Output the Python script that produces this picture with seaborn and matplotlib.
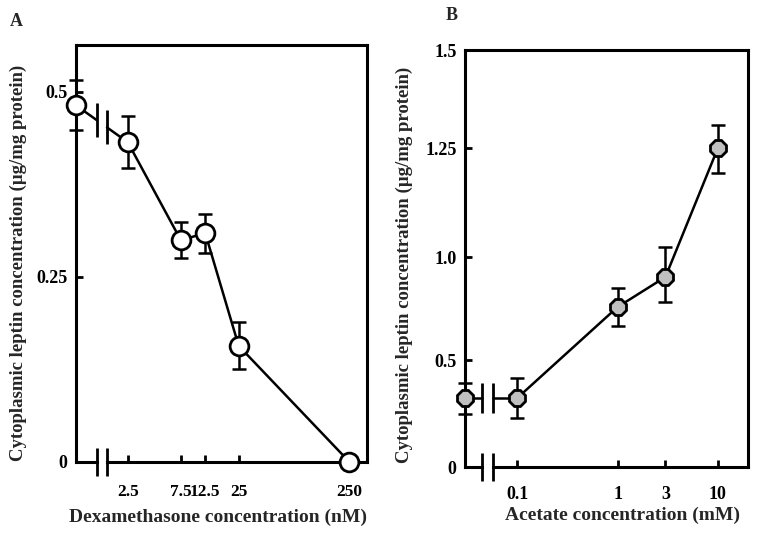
import numpy as np
import matplotlib
matplotlib.use('Agg')
import matplotlib.pyplot as plt
from matplotlib.ticker import NullLocator
import seaborn as sns

# Panel A: dexamethasone
dex_conc = [2.5, 7.5, 12.5, 25, 250]
dex_leptin = [0.432, 0.300, 0.309, 0.157, 0.0]
dex_err = [0.035, 0.024, 0.026, 0.032, 0.0]
dex_ctrl = 0.482
dex_ctrl_err = 0.034
dex_ticks = [2.5, 7.5, 12.5, 25, 250]
dex_ticklabels = ['2.5', '7.5', '12.5', '25', '250']
dex_yticks = [0, 0.25, 0.5]
dex_yticklabels = ['0', '0.25', '0.5']

# Panel B: acetate
ace_conc = [0.1, 1, 3, 10]
ace_leptin = [0.322, 0.757, 0.903, 1.25]
ace_err = [0.095, 0.093, 0.12, 0.058]
ace_ctrl = 0.322
ace_ctrl_err = 0.072
ace_ticks = [0.1, 1, 3, 10]
ace_ticklabels = ['0.1', '1', '3', '10']
ace_yticks = [0, 0.5, 1.0, 1.25, 1.5]
ace_yticklabels = ['0', '0.5', '1.0', '1.25', '1.5']

ylab = 'Cytoplasmic leptin concentration (\u00b5g/mg protein)'

sns.set_style('ticks')
plt.rcParams['font.family'] = ['Liberation Serif', 'DejaVu Serif']
plt.rcParams['font.weight'] = 'bold'
plt.rcParams['axes.labelweight'] = 'bold'

fig = plt.figure(figsize=(7.58, 5.36), dpi=100)
axA = fig.add_axes([76/758, 1-462/536, 291/758, 417/536])
axB = fig.add_axes([465/758, 1-467/536, 283/758, 417/536])

SPINE = 2.2


def draw_panel(ax, conc, vals, errs, ctrl, ctrl_err, xlim, brk, face, marker, ms, brk_ms):
    ax.set_xscale('log')
    ax.set_xlim(xlim)
    x0 = xlim[0]

    # control point sits on the y axis, line broken before the first dose
    lx = np.log10([x0, conc[0]])
    yb = np.interp(np.log10(brk), lx, [ctrl, vals[0]])
    ax.plot([x0, brk[0]], [ctrl, yb[0]], color='k', lw=1.8, zorder=3)
    ax.plot([brk[1], conc[0]], [yb[1], vals[0]], color='k', lw=1.8, zorder=3)
    ax.plot(brk, yb, ls='none', marker='|', ms=brk_ms, mew=2, color='k', zorder=3)

    sns.lineplot(x=conc, y=vals, ax=ax, color='k', lw=1.8, errorbar=None,
                 marker=marker, markersize=ms, markerfacecolor=face,
                 markeredgecolor='k', markeredgewidth=2, zorder=5, clip_on=False)
    ax.plot([x0], [ctrl], ls='none', marker=marker, ms=ms, mfc=face, mec='k',
            mew=2, zorder=5, clip_on=False)

    eb = ax.errorbar([x0] + conc, [ctrl] + vals, yerr=[ctrl_err] + errs, fmt='none',
                     ecolor='k', elinewidth=1.8, capsize=4.7, capthick=1.8, zorder=4)
    for art in eb.lines[1] + eb.lines[2]:
        art.set_clip_on(False)

    # broken x axis
    for s in ax.spines.values():
        s.set_linewidth(SPINE)
        s.set_color('k')
    ax.spines['bottom'].set_bounds(brk[1], xlim[1])
    ax.plot([x0, brk[0]], [0, 0], transform=ax.get_xaxis_transform(), color='k',
            lw=SPINE, solid_capstyle='projecting', clip_on=False, zorder=3)
    ax.plot(brk, [0, 0], transform=ax.get_xaxis_transform(), ls='none', marker='|',
            ms=20, mew=2, color='k', clip_on=False, zorder=3)

    ax.xaxis.set_minor_locator(NullLocator())
    ax.yaxis.set_minor_locator(NullLocator())
    ax.tick_params(direction='in', length=5, width=2, labelsize=13, colors='k')
    ax.tick_params(axis='y', pad=6)


draw_panel(axA, dex_conc, dex_leptin, dex_err, dex_ctrl, dex_ctrl_err,
           (0.851, 360), [1.316, 1.62], 'white', 'o', 13.5, 24)
axA.set_ylim(0, 0.5635)
axA.set_xticks(dex_ticks, dex_ticklabels)
axA.set_yticks(dex_yticks, dex_yticklabels)
axA.tick_params(axis='x', pad=16, labelsize=12.5)
axA.set_xlabel('Dexamethasone concentration (nM)', fontsize=14)
axA.set_ylabel(ylab, fontsize=13.5)
axA.xaxis.set_label_coords(0.489, -0.113)
axA.yaxis.set_label_coords(-0.168, 0.477)

# tick heights on the B axis are evenly spaced, not proportional
b_pos = [0, 107, 210, 319, 417]
fwd = lambda v: np.interp(v, ace_yticks, b_pos)
inv = lambda p: np.interp(p, b_pos, ace_yticks)
axB.set_yscale('function', functions=(fwd, inv))
axB.set_ylim(0, 1.5)
draw_panel(axB, ace_conc, ace_leptin, ace_err, ace_ctrl, ace_ctrl_err,
           (0.0302, 19.95), [0.0447, 0.0575], '#c0c0c0', '8', 12.5, 21)
axB.set_ylim(0, 1.5)
axB.set_xticks(ace_ticks, ace_ticklabels)
axB.set_yticks(ace_yticks, ace_yticklabels)
axB.tick_params(axis='x', pad=14)
axB.set_xlabel('Acetate concentration (mM)', fontsize=14)
axB.set_ylabel(ylab, fontsize=13.5)
axB.xaxis.set_label_coords(0.555, -0.096)
axB.yaxis.set_label_coords(-0.184, 0.484)

fig.text(16/758, 1-22/536, 'A', fontsize=13, ha='center', va='center')
fig.text(452/758, 1-16/536, 'B', fontsize=13, ha='center', va='center')

fig.savefig('out.png', dpi=100)
